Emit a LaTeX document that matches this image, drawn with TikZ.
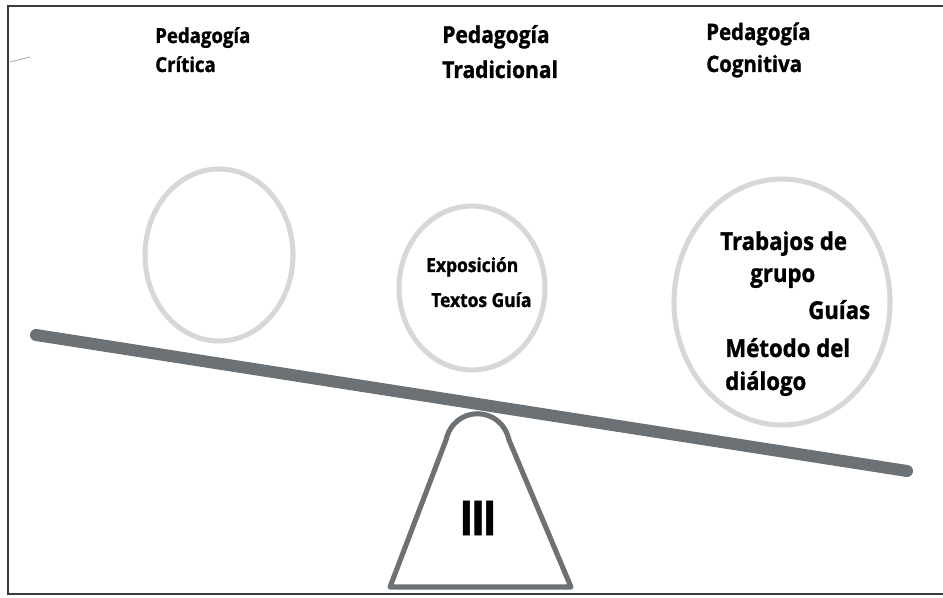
\documentclass[tikz,border=0pt]{standalone}
\usepackage{fontspec}
\setmainfont{Open Sans}[FakeStretch=0.9,BoldFeatures={FakeBold=1.2}]
\definecolor{beamgray}{HTML}{6B7174}
\definecolor{ringgray}{HTML}{D7D7D7}
\definecolor{framegray}{HTML}{3A3A3A}
\begin{document}
\begin{tikzpicture}[x=0.75pt,y=-0.75pt,
  lbl/.style={anchor=base west,inner sep=0pt,font=\bfseries,text=black},
  ring/.style={draw=ringgray,line width=3.8pt},
  beam/.style={draw=beamgray,line width=9pt,line cap=round},
  stand/.style={draw=beamgray,line width=3.8pt,line join=round}]
\useasboundingbox (0,0) rectangle (943,598);
% outer frame (right side runs off the page)
\draw[framegray,line width=1.6pt] (960,6) -- (8,6) -- (8,594) -- (960,594);
% small stray stroke near the left edge
\draw[gray!70,line width=0.6pt] (10,62) -- (30,57);

% headings
\node[lbl,font=\bfseries\fontsize{15.5}{18}\selectfont] (h1a) at (155,43) {Pedagogía};
\node[lbl,font=\bfseries\fontsize{15.5}{18}\selectfont] (h1b) at (155,72) {Crítica};
\node[lbl,font=\bfseries\fontsize{17.5}{20}\selectfont] (h2a) at (442,43) {Pedagogía};
\node[lbl,font=\bfseries\fontsize{17.5}{20}\selectfont] (h2b) at (442,78) {Tradicional};
\node[lbl,font=\bfseries\fontsize{17}{20}\selectfont] (h3a) at (706,40) {Pedagogía};
\node[lbl,font=\bfseries\fontsize{17}{20}\selectfont] (h3b) at (706,72) {Cognitiva};

% pans
\draw[ring] (219,255) ellipse [x radius=74, y radius=86];
\draw[ring] (472,288) ellipse [x radius=73, y radius=82];
\draw[ring] (782,302) ellipse [x radius=108, y radius=123];

% contents of the pans
\node[lbl,font=\bfseries\fontsize{14.5}{17}\selectfont] (t1) at (426,272) {Exposición};
\node[lbl,font=\bfseries\fontsize{14.5}{17}\selectfont] (t2) at (431,307) {Textos Guía};
\node[lbl,font=\bfseries\fontsize{18.5}{22}\selectfont] (r1) at (720,250) {Trabajos de};
\node[lbl,font=\bfseries\fontsize{18.5}{22}\selectfont] (r2) at (750,282) {grupo};
\node[lbl,font=\bfseries\fontsize{18.5}{22}\selectfont] (r3) at (808,319) {Guías};
\node[lbl,font=\bfseries\fontsize{18.5}{22}\selectfont] (r4) at (725,357) {Método del};
\node[lbl,font=\bfseries\fontsize{18.5}{22}\selectfont] (r5) at (725,390) {diálogo};

% beam
\coordinate (bl) at (36,335);
\coordinate (br) at (907,471);
\draw[beam] (bl) -- (br);

% fulcrum
\coordinate (fl) at (390,587);
\coordinate (fr) at (571,587);
\coordinate (sl) at (446,440);
\coordinate (sr) at (509,440);
\draw[stand] (fl) -- (sl) .. controls (454,405) and (501,405) .. (sr) -- (fr) -- cycle;
\node[inner sep=0pt,font=\bfseries\fontsize{36}{38}\selectfont] (iii) at (478,518) {I\kern-2pt I\kern-2pt I};
\end{tikzpicture}
\end{document}
